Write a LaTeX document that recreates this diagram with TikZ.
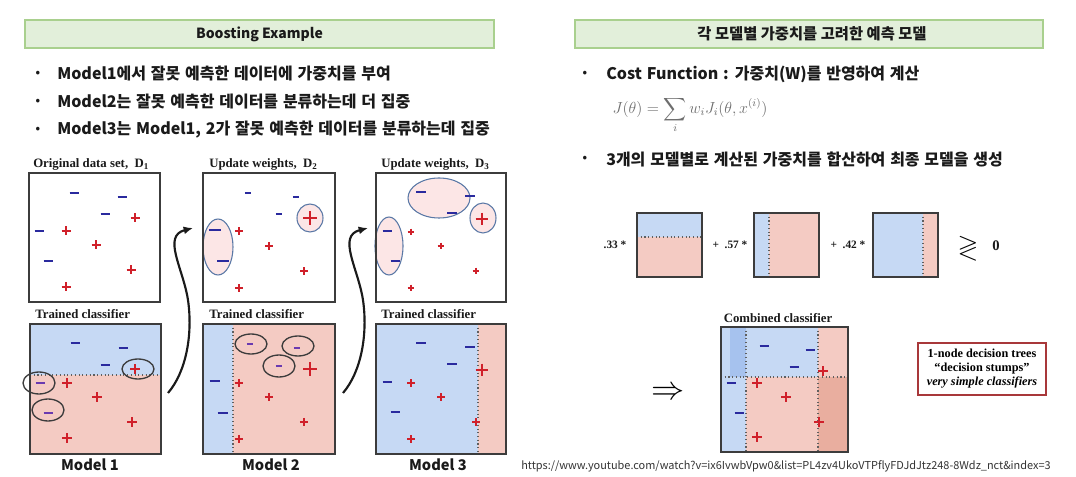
\documentclass[tikz,border=0pt]{standalone}
\usepackage{fontspec}
\usepackage{amssymb}
\setmainfont{Liberation Serif}
\newfontfamily\krfont{Noto Sans CJK KR}
\usetikzlibrary{arrows.meta}
\definecolor{ink}{HTML}{1A1A1A}
\definecolor{titlefill}{HTML}{E2EFDA}
\definecolor{titleline}{HTML}{A9D08E}
\definecolor{blueR}{HTML}{C6D9F4}
\definecolor{blueD}{HTML}{A6C2EE}
\definecolor{pinkR}{HTML}{F4CBC3}
\definecolor{pinkD}{HTML}{E9AE9F}
\definecolor{negc}{HTML}{2A2A9E}
\definecolor{negsoft}{HTML}{6A3AB0}
\definecolor{posc}{HTML}{D0202A}
\definecolor{wfill}{HTML}{FCE6E6}
\definecolor{wline}{HTML}{5A78A6}
\definecolor{stump}{HTML}{A8383A}
\definecolor{formula}{HTML}{6E6E6E}
\definecolor{urlc}{HTML}{333333}
\newcommand\krbullet{\krfont\bfseries\fontsize{12}{14}\selectfont\spaceskip=0.3em\relax}
\tikzset{
  headbox/.style={draw=titleline,fill=titlefill,line width=0.8pt},
  headtext/.style={font=\krfont\bfseries\fontsize{10.5}{12}\selectfont,text=ink,inner sep=0pt},
  bullet/.style={font=\krbullet,text=ink,anchor=west,inner sep=0pt},
  dotmark/.style={font=\krfont\bfseries\fontsize{8.5}{9}\selectfont,text=ink,inner sep=0pt},
  paneltitle/.style={font=\bfseries\fontsize{9.6}{10}\selectfont,anchor=west,inner sep=0pt,text=ink},
  modelname/.style={font=\krfont\bfseries\fontsize{11}{12}\selectfont,inner sep=0pt,text=ink},
  frame/.style={draw=ink!85,line width=1.1pt},
  split/.style={draw=ink!70,line width=0.8pt,dotted},
  weighted/.style={draw=wline,fill=wfill,line width=0.8pt},
  missed/.style={draw=ink!85,line width=1pt},
  flow/.style={-{Latex[length=7pt,width=6pt]},line width=1.6pt,draw=ink},
  coef/.style={font=\bfseries\fontsize{8.5}{9}\selectfont,inner sep=0pt,text=ink},
  negmark/.style={draw=negc},
  posmark/.style={draw=posc}
}
% minus / plus marks: [size]{x}{y}
\newcommand\mns[3][1]{\draw[negmark,line width=#1*1.7pt] (#2,#3) ++(-4.5*#1,0) -- ++(9*#1,0);}
\newcommand\pls[3][1]{\draw[posmark,line width=#1*1.3pt] (#2,#3) ++(-4.5*#1,0) -- ++(9*#1,0) (#2,#3) ++(0,-4.5*#1) -- ++(0,9*#1);}

\begin{document}
\begin{tikzpicture}[x=0.75pt,y=-0.75pt]
  \useasboundingbox[fill=white] (0,0) rectangle (1076,477);

  % headers
  \draw[headbox] (25,20) rectangle (494,48);
  \node[headtext] (hdL) at (259.5,34) {Boosting Example};
  \draw[headbox] (575,20) rectangle (1043,48);
  \node[headtext,font=\krfont\bfseries\fontsize{11.5}{12}\selectfont] (hdR) at (812,34) {각 모델별 가중치를 고려한 예측 모델};

  % bullets, left
  \foreach \y/\t [count=\i] in {74/{Model1에서 잘못 예측한 데이터에 가중치를 부여},
      102/{Model2는 잘못 예측한 데이터를 분류하는데 더 집중},
      130/{Model3는 Model1, 2가 잘못 예측한 데이터를 분류하는데 집중}} {
    \node[dotmark] (dL\i) at (38,\y) {•};
    \node[bullet] (bL\i) at (57,\y) {\t};
  }
  % bullets, right
  \node[dotmark] (dR1) at (585,74) {•};
  \node[bullet] (bR1) at (606,74) {Cost Function : 가중치(W)를 반영하여 계산};
  \node[text=formula,inner sep=0pt,font=\fontsize{12}{14}\selectfont] (cost) at (690,115)
    {$J(\theta) = \displaystyle\sum_i w_i J_i(\theta, x^{(i)})$};
  \node[dotmark] (dR2) at (585,159) {•};
  \node[bullet] (bR2) at (606,159) {3개의 모델별로 계산된 가중치를 합산하여 최종 모델을 생성};

  % ---- data sets with weights
  \node[paneltitle] (t1) at (33,164) {Original data set,~ D$_\mathbf{1}$};
  \node[paneltitle] (t2) at (209,164) {Update weights,~ D$_\mathbf{2}$};
  \node[paneltitle] (t3) at (381,164) {Update weights,~ D$_\mathbf{3}$};

  \begin{scope}[shift={(29,173)}]
    \foreach \u/\v in {45/20,93/24,76/41,10/58,19/88} \mns{\u}{\v};
    \foreach \u/\v in {106/45,37/58,67/72,102/97,37/114} \pls{\u}{\v};
    \draw[frame] (0,0) rectangle (131,129);
  \end{scope}

  \begin{scope}[shift={(203,173)}]
    \draw[weighted] (15,74) ellipse [x radius=15,y radius=28];
    \draw[weighted] (107,45) ellipse [x radius=13,y radius=14];
    \foreach \u/\v/\s in {45/20/0.7,93/24/0.7,76/41/0.7,12/57/1.25,20/88/1.3} \mns[\s]{\u}{\v};
    \foreach \u/\v/\s in {107/45/1.5,36/58/0.85,66/73/0.85,101/98/0.85,36/115/0.85} \pls[\s]{\u}{\v};
    \draw[frame] (0,0) rectangle (132,129);
  \end{scope}

  \begin{scope}[shift={(376,173)}]
    \draw[weighted] (63,25) ellipse [x radius=31,y radius=20];
    \draw[weighted] (107,45) ellipse [x radius=13,y radius=15];
    \draw[weighted] (13,73) ellipse [x radius=14,y radius=29];
    \foreach \u/\v/\s in {45/19/1.1,94/23/1.1,76/40/1.1,11/58/1,19/88/1} \mns[\s]{\u}{\v};
    \foreach \u/\v/\s in {106/46/1.4,35/59/0.75,65/73/0.75,100/98/0.75,35/115/0.75} \pls[\s]{\u}{\v};
    \draw[frame] (0,0) rectangle (130,129);
  \end{scope}

  % ---- trained classifiers
  \node[paneltitle] (c1) at (35,314) {Trained classifier};
  \node[paneltitle] (c2) at (209,314) {Trained classifier};
  \node[paneltitle] (c3) at (381,314) {Trained classifier};

  \begin{scope}[shift={(30,324)}]
    \fill[blueR] (0,0) rectangle (131,51);
    \fill[pinkR] (0,51) rectangle (131,130);
    \draw[split] (0,51) -- (133,51);
    \foreach \u/\v in {45/19,93/24,75/41} \mns{\u}{\v};
    \begin{scope}[negmark/.style={draw=negsoft}]
      \foreach \u/\v in {10/59,18/89} \mns{\u}{\v};
    \end{scope}
    \foreach \u/\v in {105/45,37/59,67/73,102/98,37/114} \pls[1.05]{\u}{\v};
    \draw[missed] (108,45) ellipse [x radius=16,y radius=10];
    \draw[missed] (9,59) ellipse [x radius=16,y radius=11];
    \draw[missed] (18,86) ellipse [x radius=16,y radius=11];
    \draw[frame] (0,0) rectangle (131,130);
  \end{scope}

  \begin{scope}[shift={(203,324)}]
    \fill[blueR] (0,0) rectangle (30,130);
    \fill[pinkR] (30,0) rectangle (132,130);
    \draw[split] (30,0) -- (30,130);
    \begin{scope}[negmark/.style={draw=negsoft}]
      \foreach \u/\v in {47/20,94/24,76/42} \mns[0.7]{\u}{\v};
    \end{scope}
    \foreach \u/\v in {12/57,20/89} \mns[1.2]{\u}{\v};
    \foreach \u/\v/\s in {107/45/1.5,36/59/0.9,66/73/0.9,101/98/0.9,36/115/0.9} \pls[\s]{\u}{\v};
    \draw[missed] (48,20) ellipse [x radius=16,y radius=10];
    \draw[missed] (95,22) ellipse [x radius=16,y radius=10];
    \draw[missed] (76,42) ellipse [x radius=16,y radius=11];
    \draw[frame] (0,0) rectangle (132,130);
  \end{scope}

  \begin{scope}[shift={(376,324)}]
    \fill[blueR] (0,0) rectangle (102,130);
    \fill[pinkR] (102,0) rectangle (130,130);
    \draw[split] (102,0) -- (102,130);
    \foreach \u/\v/\s in {45/19/1.1,94/23/1.1,76/40/1.1,11/58/1,19/88/1} \mns[\s]{\u}{\v};
    \foreach \u/\v/\s in {106/46/1.4,35/59/0.85,65/73/0.85,100/98/0.85,35/115/0.85} \pls[\s]{\u}{\v};
    \draw[frame] (0,0) rectangle (130,130);
  \end{scope}

  \node[modelname] (m1) at (90,465) {Model 1};
  \node[modelname] (m2) at (271,465) {Model 2};
  \node[modelname] (m3) at (438,465) {Model 3};

  % arrows between rounds
  \coordinate (a1s) at (168,393);
  \coordinate (a1e) at (193,228);
  \coordinate (a2s) at (343,393);
  \coordinate (a2e) at (368,228);
  \draw[flow] (a1s) .. controls (186,372) and (193,335) .. (188,300)
    .. controls (183,268) and (162,236) .. (a1e);
  \draw[flow] (a2s) .. controls (361,372) and (368,335) .. (363,300)
    .. controls (358,268) and (337,236) .. (a2e);

  % ---- weighted sum of stumps
  \node[coef] (k1) at (615,245) {.33 *};
  \fill[blueR] (637,213) rectangle (702,237);
  \fill[pinkR] (637,237) rectangle (702,277);
  \draw[split] (637,237) -- (702,237);
  \draw[frame] (637,213) rectangle (702,277);

  \node[coef] (k2) at (730,245) {+ ~.57 *};
  \fill[blueR] (754,213) rectangle (769,277);
  \fill[pinkR] (769,213) rectangle (819,277);
  \draw[split] (769,213) -- (769,277);
  \draw[frame] (754,213) rectangle (819,277);

  \node[coef] (k3) at (848,245) {+ ~.42 *};
  \fill[blueR] (873,213) rectangle (923,277);
  \fill[pinkR] (923,213) rectangle (938,277);
  \draw[split] (923,213) -- (923,277);
  \draw[frame] (873,213) rectangle (938,277);

  \node[inner sep=0pt,font=\fontsize{20}{20}\selectfont] (cmp) at (968,248) {$\gtrless$};
  \node[coef,font=\bfseries\fontsize{11}{12}\selectfont] (zero) at (996,246) {0};

  % ---- combined classifier
  \node[inner sep=0pt,font=\fontsize{26}{26}\selectfont] (impl) at (668,393) {$\Rightarrow$};
  \node[paneltitle,anchor=center] (cc) at (778,318) {Combined classifier};
  \begin{scope}[shift={(721,327)}]
    \fill[blueR] (0,0) rectangle (97,50);
    \fill[blueD] (9,0) rectangle (25,50);
    \fill[blueR] (0,50) rectangle (25,125);
    \fill[pinkR] (25,50) rectangle (97,125);
    \fill[pinkR] (97,0) rectangle (127,50);
    \fill[pinkD] (97,50) rectangle (127,125);
    \draw[split] (25,0) -- (25,125);
    \draw[split] (97,0) -- (97,125);
    \draw[split] (0,50) -- (127,50);
    \foreach \u/\v in {43/19,89/23,73/40,10/56,18/86} \mns{\u}{\v};
    \foreach \u/\v in {102/44,36/56,65/70,98/95,36/110} \pls[1.05]{\u}{\v};
    \draw[frame] (0,0) rectangle (127,125);
  \end{scope}

  \node[draw=stump,line width=1pt,fill=white,minimum width=96pt,minimum height=39pt,
    align=center,inner sep=2pt,font=\bfseries\fontsize{9.2}{10.5}\selectfont] (stumps) at (982,369)
    {1-node decision trees\\``decision stumps''\\\textit{very simple classifiers}};

  \node[inner sep=0pt,text=urlc,font=\krfont\fontsize{8.2}{9}\selectfont] (src) at (786,466)
    {https://www.youtube.com/watch?v=ix6IvwbVpw0\&list=PL4zv4UkoVTPflyFDJdJtz248-8Wdz\_nct\&index=3};
\end{tikzpicture}
\end{document}
